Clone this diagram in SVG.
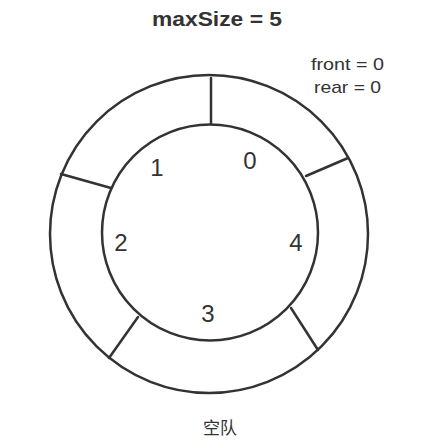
<svg xmlns="http://www.w3.org/2000/svg" width="448" height="448" viewBox="0 0 448 448">
<style>
.ring{fill:none;stroke:#333;stroke-width:2.5}
.div{stroke:#333;stroke-width:2.5;stroke-linecap:round}
.idx{font-family:"Liberation Sans","Noto Sans",sans-serif;font-size:24px;fill:#333;text-anchor:middle}
.lbl{font-family:"Liberation Sans","Noto Sans",sans-serif;font-size:17px;fill:#333;text-anchor:middle}
</style>
<rect width="448" height="448" fill="#fff"/>
<text x="217" y="26" font-family="'Liberation Sans','Noto Sans',sans-serif" font-size="21" font-weight="bold" fill="#333" text-anchor="middle" textLength="130" lengthAdjust="spacingAndGlyphs">maxSize = 5</text>
<g id="ring">
<ellipse class="ring" cx="209" cy="234" rx="159" ry="159"/>
<circle class="ring" cx="210" cy="232.5" r="108"/>
</g>
<g id="connectors">
<line class="div" x1="211" y1="78" x2="211" y2="124"/>
<line class="div" x1="348" y1="158" x2="306" y2="176"/>
<line class="div" x1="61" y1="174" x2="111" y2="188"/>
<line class="div" x1="138" y1="317" x2="109" y2="358"/>
<line class="div" x1="291" y1="308" x2="318" y2="350"/>
</g>
<g id="slot0"><text class="idx" x="250" y="169">0</text></g>
<g id="slot1"><text class="idx" x="157" y="176">1</text></g>
<g id="slot2"><text class="idx" x="121" y="251">2</text></g>
<g id="slot3"><text class="idx" x="208" y="322">3</text></g>
<g id="slot4"><text class="idx" x="296" y="251">4</text></g>
<g id="pointers">
<text class="lbl" x="347.5" y="70" textLength="73" lengthAdjust="spacingAndGlyphs">front = 0</text>
<text class="lbl" x="347.5" y="93" textLength="67" lengthAdjust="spacingAndGlyphs">rear = 0</text>
</g>
<text x="220" y="434" font-family="'Noto Sans CJK SC',sans-serif" font-size="17" fill="#333" text-anchor="middle">空队</text>
</svg>
